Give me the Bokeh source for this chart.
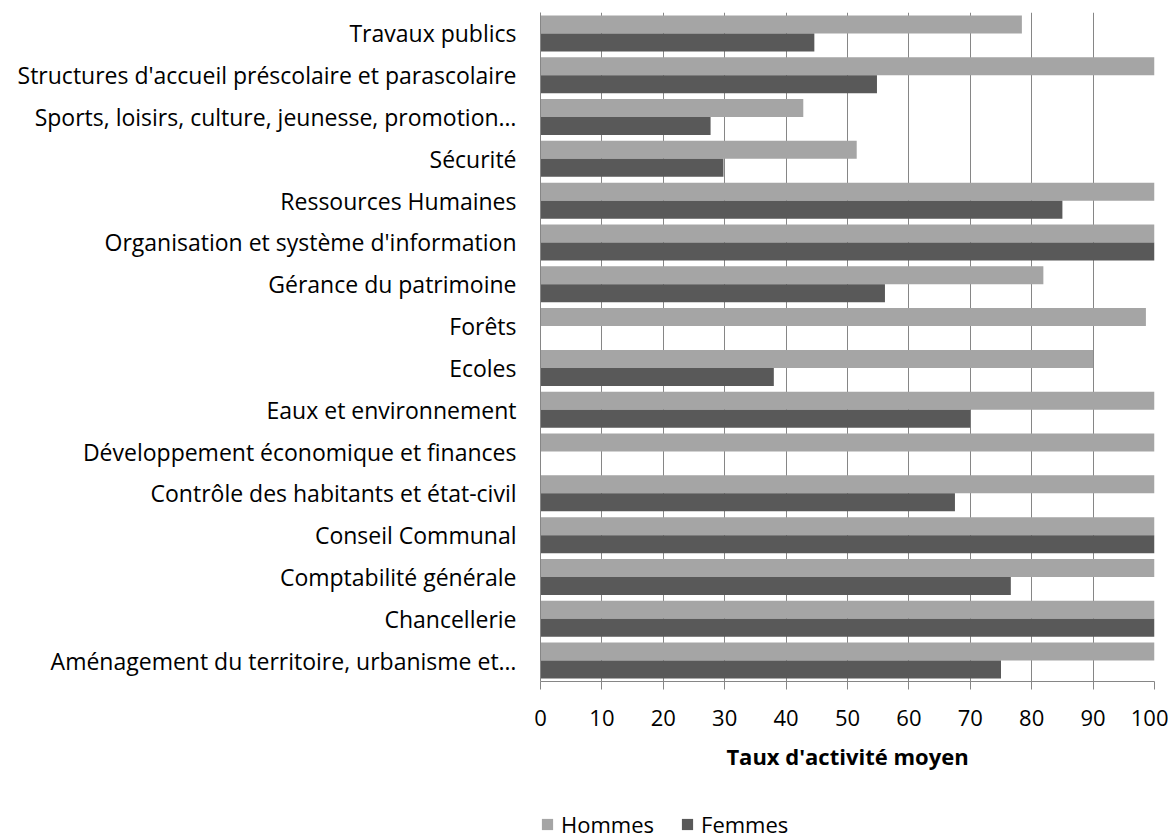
from bokeh.plotting import figure
from bokeh.layouts import column
from bokeh.models import ColumnDataSource, FactorRange, Range1d, FixedTicker, Legend, LegendItem
from bokeh.transform import dodge
from bokeh.embed import file_html
from bokeh.resources import INLINE

# categories listed top -> bottom as in the chart
categories = [
    "Travaux publics",
    "Structures d'accueil préscolaire et parascolaire",
    "Sports, loisirs, culture, jeunesse, promotion…",
    "Sécurité",
    "Ressources Humaines",
    "Organisation et système d'information",
    "Gérance du patrimoine",
    "Forêts",
    "Ecoles",
    "Eaux et environnement",
    "Développement économique et finances",
    "Contrôle des habitants et état-civil",
    "Conseil Communal",
    "Comptabilité générale",
    "Chancellerie",
    "Aménagement du territoire, urbanisme et…",
]
hommes = [78.4, 100, 42.8, 51.5, 100, 100, 81.9, 98.6, 90.0, 100, 100, 100, 100, 100, 100, 100]
femmes = [44.6, 54.8, 27.7, 29.8, 85.0, 100, 56.1, 0, 38.0, 70.0, 0, 67.5, 100, 76.6, 100, 75.0]
series = ["Hommes", "Femmes"]
x_ticks = [0, 10, 20, 30, 40, 50, 60, 70, 80, 90, 100]

FONT = "Open Sans"
C_H = "#A5A5A5"
C_F = "#595959"

src = ColumnDataSource(dict(cat=categories, h=hommes, f=femmes))

p = figure(
    y_range=FactorRange(factors=list(reversed(categories)), range_padding=0),
    x_range=Range1d(0, 100),
    frame_width=614, frame_height=669,
    min_border_left=540, min_border_right=14, min_border_top=12, min_border_bottom=113,
    output_backend="svg", toolbar_location=None,
)

rh = p.hbar(y=dodge("cat", 0.215, range=p.y_range), right="h", left=0, height=0.43,
            source=src, fill_color=C_H, line_color=None)
rf = p.hbar(y=dodge("cat", -0.215, range=p.y_range), right="f", left=0, height=0.43,
            source=src, fill_color=C_F, line_color=None)

p.outline_line_color = None
p.background_fill_color = "white"
p.border_fill_color = "white"

# x axis
p.xaxis.ticker = FixedTicker(ticks=x_ticks)
p.xaxis.axis_label = "Taux d'activité moyen"
p.xaxis.axis_label_text_font = FONT
p.xaxis.axis_label_text_font_style = "bold"
p.xaxis.axis_label_text_font_size = "22px"
p.xaxis.axis_label_text_color = "black"
p.xaxis.axis_label_standoff = 12
p.xaxis.major_label_text_font = FONT
p.xaxis.major_label_text_font_size = "22px"
p.xaxis.major_label_text_color = "black"
p.xaxis.major_label_standoff = 20
p.xaxis.major_tick_out = 8
p.xaxis.major_tick_in = 0
p.xaxis.minor_tick_out = 0
p.xaxis.minor_tick_in = 0
p.xaxis.axis_line_color = "#868686"
p.xaxis.major_tick_line_color = "#868686"

# y axis
p.yaxis.major_label_text_font = FONT
p.yaxis.major_label_text_font_size = "23px"
p.yaxis.major_label_text_color = "black"
p.yaxis.major_tick_out = 0
p.yaxis.major_tick_in = 0
p.yaxis.major_label_standoff = 24
p.yaxis.axis_line_color = "#868686"

p.xgrid.grid_line_color = "#868686"
p.xgrid.ticker = FixedTicker(ticks=x_ticks)
p.ygrid.grid_line_color = None

# legend strip below the chart (proxy renderers with zero-length bars)
p2 = figure(width=1168, height=45, min_border=0, x_axis_type=None, y_axis_type=None,
            x_range=Range1d(0, 1), y_range=Range1d(0, 1),
            output_backend="svg", toolbar_location=None)
p2.outline_line_color = None
p2.grid.grid_line_color = None
lh = p2.hbar(y=[0.5], left=[0], right=[0], height=0.5, fill_color=C_H, line_color=None)
lf = p2.hbar(y=[0.5], left=[0], right=[0], height=0.5, fill_color=C_F, line_color=None)
legend = Legend(
    items=[LegendItem(label=series[0], renderers=[lh]), LegendItem(label=series[1], renderers=[lf])],
    orientation="horizontal", location=(0, 0),
    label_text_font=FONT, label_text_font_size="22px", label_text_color="black",
    glyph_width=14, glyph_height=14, spacing=26, padding=0, margin=0,
    label_standoff=7, border_line_color=None, background_fill_alpha=0,
)
p2.add_layout(legend, "center")

layout = column(p, p2, spacing=0)
open("out.html", "w").write(file_html(layout, INLINE))
